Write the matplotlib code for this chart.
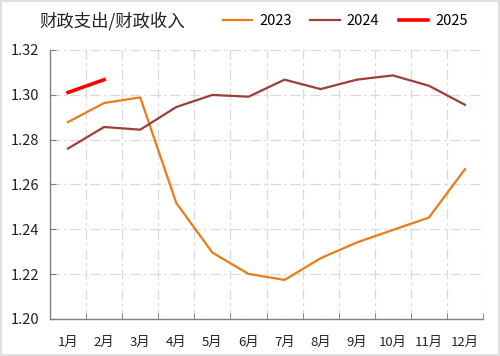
import numpy as np
import matplotlib.pyplot as plt
from matplotlib.patches import Rectangle

plt.rcParams['font.family'] = ['Noto Sans CJK SC', 'DejaVu Sans']

months = ['1月', '2月', '3月', '4月', '5月', '6月', '7月', '8月', '9月', '10月', '11月', '12月']
y2023 = [1.2878, 1.2963, 1.2988, 1.2517, 1.2296, 1.2201, 1.2174, 1.2271, 1.2341, 1.2397, 1.2452, 1.2668]
y2024 = [1.2760, 1.2856, 1.2844, 1.2945, 1.2999, 1.2991, 1.3067, 1.3025, 1.3067, 1.3086, 1.3040, 1.2955]
y2025 = [1.3010, 1.3067]
title = '财政支出/财政收入'

fig = plt.figure(figsize=(5, 3.56), dpi=100)
fig.patches.append(Rectangle((0.002, 0.003), 0.995, 0.993, transform=fig.transFigure,
                             fill=False, edgecolor='#D9D9D9', linewidth=1.2))
ax = fig.add_axes([0.1, 0.104, 0.866, 0.756])

x = np.arange(len(months))
ax.plot(x, y2023, color='#EE7A16', lw=1.6, label='2023')
ax.plot(x, y2024, color='#9E3D3A', lw=1.6, label='2024')
ax.plot(x[:len(y2025)], y2025, color='#FF0000', lw=2.6, label='2025')

ax.set_xlim(-0.5, 11.5)
ax.set_ylim(1.20, 1.32)
ax.set_yticks(np.arange(1.20, 1.321, 0.02))
ax.set_yticklabels([f'{v:.2f}' for v in np.arange(1.20, 1.321, 0.02)], fontsize=10.5, color='#222222')
ax.set_xticks(x)
ax.set_xticklabels(months, fontsize=9.5, color='#222222')
ax.set_xticks(np.arange(0.5, 11.6, 1), minor=True)
ax.tick_params(axis='x', which='major', length=0, pad=12)
ax.tick_params(axis='x', which='minor', direction='in', length=4, color='#808080')
ax.tick_params(axis='y', direction='in', length=4, color='#808080', pad=8)

ax.grid(axis='y', which='major', color='#D9D9D9', lw=0.9, linestyle=(0, (8, 3, 2, 3)))
ax.grid(axis='x', which='minor', color='#D9D9D9', lw=0.9, linestyle=(0, (8, 3, 2, 3)))
ax.set_axisbelow(True)
for s in ['top', 'right']:
    ax.spines[s].set_visible(False)
for s in ['left', 'bottom']:
    ax.spines[s].set_color('#808080')
    ax.spines[s].set_linewidth(1.0)

fig.text(0.078, 0.94, title, fontsize=12.5, color='#222222', va='center')
fig.legend(loc='center', bbox_to_anchor=(0.69, 0.94), ncol=3, frameon=False,
           fontsize=10.5, handlelength=2.0, columnspacing=1.3, handletextpad=0.5)

fig.savefig('out.png', dpi=100)
